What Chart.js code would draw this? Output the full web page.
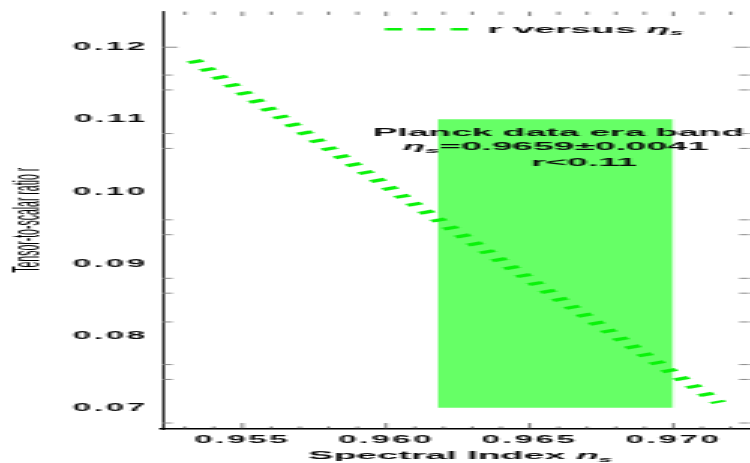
<!DOCTYPE html>
<html>
<head>
<meta charset="utf-8">
<script src="https://cdn.jsdelivr.net/npm/chart.js@4.4.0/dist/chart.umd.min.js"></script>
<style>
  html, body { margin: 0; padding: 0; background: #fff; overflow: hidden; }
  /* the reference figure is stretched sideways, so the chart is drawn narrow and widened */
  #wrap { width: 250px; height: 463px; transform: scaleX(3); transform-origin: 0 0; }
</style>
</head>
<body>
<div id="wrap"><canvas id="chart" width="250" height="463"></canvas></div>
<script>
// r versus n_s
const nsValues = [0.9533, 0.9550, 0.9600, 0.9650, 0.9700, 0.9716];
const rValues  = [0.1182, 0.1138, 0.1008, 0.0878, 0.0748, 0.0707];

// Planck band
const bandNs = [0.9618, 0.9700];
const bandR  = [0.07, 0.11];
const bandLines = ['Planck data era band', '=0.9659\u00b10.0041', 'r<0.11'];

// axes
const xRange = [0.95222, 0.97264];
const yRange = [0.06707, 0.12494];
const xTickValues = [0.955, 0.960, 0.965, 0.970];
const yTickValues = [0.07, 0.08, 0.09, 0.10, 0.11, 0.12];
const xMinorTicks = [0.953, 0.954, 0.955, 0.956, 0.957, 0.958, 0.959, 0.960, 0.961, 0.962,
                     0.963, 0.964, 0.965, 0.966, 0.967, 0.968, 0.969, 0.970, 0.971, 0.972];
const yMinorTicks = [0.11614, 0.11408, 0.10803, 0.10597, 0.09607, 0.09401, 0.08796,
                     0.08590, 0.08191, 0.07600, 0.07394, 0.06790];
const yMajorMarks = [0.12];

const GREEN = '#0af20a';
const FONT = 'Liberation Sans, Arial, sans-serif';

// draws text made of runs (normal / italic / subscript) with a sideways scale
function drawRuns(ctx, runs, x, y, align, hScale) {
  let total = 0;
  runs.forEach(r => {
    ctx.font = r.font;
    r.w = ctx.measureText(r.text).width;
    total += r.w;
  });
  ctx.save();
  ctx.translate(x, y);
  ctx.scale(hScale, 1);
  let cx = align === 'center' ? -total / 2 : (align === 'right' ? -total : 0);
  ctx.textAlign = 'left';
  ctx.textBaseline = 'alphabetic';
  runs.forEach(r => {
    ctx.font = r.font;
    ctx.fillText(r.text, cx, r.dy || 0);
    cx += r.w;
  });
  ctx.restore();
}

const decorations = {
  id: 'decorations',
  beforeDraw(chart) {
    // wider tick labels, like the reference
    chart.ctx.letterSpacing = '0.9px';
  },
  afterDatasetsDraw(chart) {
    const ctx = chart.ctx;
    const xs = chart.scales.x, ys = chart.scales.y;
    ctx.save();
    ctx.letterSpacing = '0px';
    ctx.fillStyle = '#0a0a0a';

    // band label
    const b = 'bold 10.4px ' + FONT;
    drawRuns(ctx, [{ text: bandLines[0], font: b }],
      xs.getPixelForValue(0.9660), ys.getPixelForValue(0.1077), 'center', 1.19);
    drawRuns(ctx, [
      { text: '\u03b7', font: 'italic bold 10.4px ' + FONT },
      { text: 's', font: 'italic bold 7px ' + FONT, dy: 2.5 },
      { text: bandLines[1], font: b }
    ], xs.getPixelForValue(0.9659), ys.getPixelForValue(0.1057), 'center', 1.19);
    drawRuns(ctx, [{ text: bandLines[2], font: b }],
      xs.getPixelForValue(0.9669), ys.getPixelForValue(0.1036), 'center', 1.19);
    ctx.restore();
  },
  afterDraw(chart) {
    const ctx = chart.ctx;
    const xs = chart.scales.x, ys = chart.scales.y;
    const a = chart.chartArea;
    ctx.save();
    ctx.letterSpacing = '0px';

    // tick marks pointing inward on all four sides
    ctx.strokeStyle = '#8a8a8a';
    ctx.lineWidth = 1;
    const hTick = (x, y, len) => { ctx.beginPath(); ctx.moveTo(x, y); ctx.lineTo(x + len, y); ctx.stroke(); };
    const vTick = (x, y, len) => { ctx.beginPath(); ctx.moveTo(x, y); ctx.lineTo(x, y + len); ctx.stroke(); };
    yMinorTicks.forEach(v => {
      const p = ys.getPixelForValue(v);
      hTick(a.left, p, 3.3);
      hTick(a.right, p, -3.3);
    });
    yMajorMarks.forEach(v => {
      const p = ys.getPixelForValue(v);
      hTick(a.left, p, 5);
      hTick(a.right, p, -5);
    });
    ctx.lineWidth = 0.6;
    ctx.strokeStyle = '#333';
    xMinorTicks.forEach(v => {
      const p = xs.getPixelForValue(v);
      const major = xTickValues.some(t => Math.abs(t - v) < 1e-6);
      vTick(p, a.bottom, major ? -6 : -2.6);
      vTick(p, a.top, major ? 4.5 : 3.3);
    });

    // legend
    ctx.strokeStyle = GREEN;
    ctx.lineWidth = 2.4;
    ctx.setLineDash([5.7, 5.3]);
    ctx.beginPath();
    ctx.moveTo(128.3, 29.3);
    ctx.lineTo(156.3, 29.3);
    ctx.stroke();
    ctx.setLineDash([]);
    ctx.fillStyle = '#0a0a0a';
    drawRuns(ctx, [
      { text: chart.data.datasets[0].label + ' ', font: 'bold 11.8px ' + FONT },
      { text: '\u03b7', font: 'italic bold 11.8px ' + FONT },
      { text: 's', font: 'italic bold 7.5px ' + FONT, dy: 2.5 }
    ], 162.4, 32.7, 'left', 1.08);

    // x axis title
    drawRuns(ctx, [
      { text: 'Spectral Index ', font: 'bold 10.8px ' + FONT },
      { text: 'n', font: 'italic bold 10.8px ' + FONT },
      { text: 's', font: 'italic bold 7px ' + FONT, dy: 2.5 }
    ], (a.left + a.right) / 2 + 1.5, 459.3, 'center', 1.16);

    // y axis title, narrow and not bold
    ctx.save();
    ctx.translate(13.3, (a.top + a.bottom) / 2);
    ctx.rotate(-Math.PI / 2);
    ctx.scale(0.82, 1);
    ctx.font = '12.8px ' + FONT;
    ctx.fillStyle = '#000';
    ctx.textAlign = 'center';
    ctx.textBaseline = 'alphabetic';
    ctx.fillText('Tensor-to-scalar ratio r', 0, 0);
    ctx.restore();

    ctx.restore();
  }
};

const ctx = document.getElementById('chart').getContext('2d');
const chart = new Chart(ctx, {
  type: 'line',
  data: {
    datasets: [
      {
        label: 'r versus',
        data: nsValues.map((x, i) => ({ x: x, y: rValues[i] })),
        borderColor: GREEN,
        borderWidth: 5.4,
        borderDash: [3.0, 5.9],
        borderCapStyle: 'butt',
        pointRadius: 0,
        tension: 0,
        fill: false
      },
      {
        label: 'band top',
        data: bandNs.map(x => ({ x: x, y: bandR[1] })),
        borderWidth: 0,
        pointRadius: 0,
        backgroundColor: '#66ff66',
        fill: '+1'
      },
      {
        label: 'band bottom',
        data: bandNs.map(x => ({ x: x, y: bandR[0] })),
        borderWidth: 0,
        pointRadius: 0,
        fill: false
      }
    ]
  },
  options: {
    responsive: false,
    devicePixelRatio: 1,
    animation: false,
    layout: { padding: { top: 8, right: 0.3, left: 0, bottom: 0 } },
    plugins: {
      legend: { display: false },
      tooltip: { enabled: false }
    },
    scales: {
      x: {
        type: 'linear',
        position: 'bottom',
        min: xRange[0],
        max: xRange[1],
        grid: { display: false, drawTicks: false },
        border: { display: true, color: '#000', width: 1.6 },
        afterBuildTicks: axis => { axis.ticks = xTickValues.map(v => ({ value: v })); },
        afterFit: axis => { axis.height = 34; },
        ticks: {
          autoSkip: false,
          maxRotation: 0,
          padding: 4,
          color: '#0a0a0a',
          font: { family: FONT, weight: 'bold', size: 11 },
          callback: v => v.toFixed(3)
        }
      },
      y: {
        type: 'linear',
        min: yRange[0],
        max: yRange[1],
        grid: { display: false, drawTicks: false },
        border: { display: true, color: '#000', width: 0.8 },
        afterBuildTicks: axis => { axis.ticks = yTickValues.map(v => ({ value: v })); },
        afterFit: axis => { axis.width = 54.2; },
        ticks: {
          padding: 5,
          color: '#0a0a0a',
          font: { family: FONT, weight: 'bold', size: 11 },
          callback: v => v.toFixed(2)
        }
      }
    }
  },
  plugins: [decorations]
});
</script>
</body>
</html>
